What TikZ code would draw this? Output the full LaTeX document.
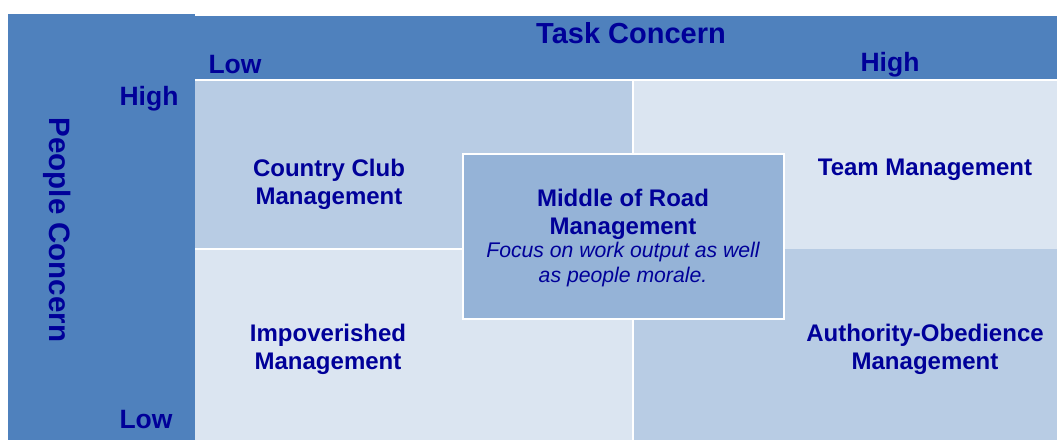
\documentclass[tikz,border=0pt]{standalone}
\usepackage{fontspec}
\setmainfont{Liberation Sans}
\definecolor{panel}{HTML}{4F81BD}
\definecolor{qdark}{HTML}{B8CCE4}
\definecolor{qlight}{HTML}{DBE5F1}
\definecolor{midbox}{HTML}{95B3D7}
\definecolor{navy}{HTML}{000099}
\begin{document}
\begin{tikzpicture}[x=1pt,y=-1pt,
  area/.style={inner sep=0pt, outer sep=0pt, anchor=north west},
  axis/.style={text=navy, font=\fontsize{26.5}{30}\selectfont\bfseries, inner sep=0pt},
  quadlbl/.style={text=navy, align=center, font=\fontsize{24}{28}\selectfont\bfseries, inner sep=0pt},
  sublbl/.style={text=navy, align=center, font=\fontsize{21.2}{25}\selectfont\itshape, inner sep=0pt}]
\useasboundingbox (0,0) rectangle (1057,440);
\fill[white] (0,0) rectangle (1057,440);
% panels
\node[area, fill=panel, minimum width=187, minimum height=426] (leftpanel) at (8,14) {};
\node[area, fill=panel, minimum width=862, minimum height=63] (toppanel) at (195,16) {};
% quadrants
\node[area, fill=qdark, minimum width=437, minimum height=167] (tl) at (195,81) {};
\node[area, fill=qlight, minimum width=423, minimum height=168] (tr) at (634,81) {};
\node[area, fill=qlight, minimum width=437, minimum height=190] (bl) at (195,250) {};
\node[area, fill=qdark, minimum width=423, minimum height=191] (br) at (634,249) {};
% middle box
\node[area, fill=midbox, draw=white, line width=2pt, minimum width=321, minimum height=165] (mid) at (463,154) {};
% axis labels
\node[text=navy, font=\fontsize{29}{33}\selectfont\bfseries, inner sep=0pt] (task) at (631,33) {Task Concern};
\node[axis] (tlow) at (235,65) {Low};
\node[axis] (thigh) at (890,65) {High};
\node[axis] (phigh) at (149,99) {High};
\node[axis] (plow) at (146,420) {Low};
\node[axis, font=\fontsize{29.5}{33}\selectfont\bfseries, rotate=-90] (people) at (57,230) {People Concern};
% quadrant labels
\node[quadlbl] (cc) at (329,184) {Country Club\\Management};
\node[quadlbl] (team) at (925,170) {Team Management};
\node[quadlbl] (imp) at (328,349) {Impoverished\\Management};
\node[quadlbl] (auth) at (925,349) {Authority-Obedience\\Management};
\node[quadlbl] (midtitle) at (623,214) {Middle of Road\\Management};
\node[sublbl] (midsub) at (623,265) {Focus on work output as well\\as people morale.};
\end{tikzpicture}
\end{document}
